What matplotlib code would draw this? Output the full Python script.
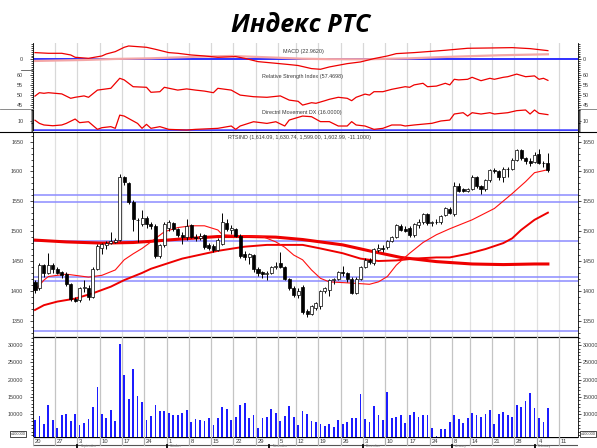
import matplotlib
matplotlib.use("Agg")
import matplotlib.pyplot as plt
from matplotlib.lines import Line2D
from matplotlib.ticker import MultipleLocator, FixedLocator

# daily candles (day 0 = 20 Aug)
opens = [1415, 1404, 1443, 1430, 1444, 1436, 1432, 1428, 1411, 1386,
         1384, 1405, 1405, 1390, 1437, 1472, 1477, 1481, 1482, 1485,
         1590, 1580, 1549, 1518, 1512, 1522, 1512, 1508, 1458, 1476,
         1506, 1514, 1503, 1494, 1490, 1510, 1491, 1488, 1493, 1476,
         1475, 1469, 1478, 1514, 1502, 1503, 1492, 1462, 1456, 1460,
         1436, 1431, 1428, 1430, 1440, 1446, 1440, 1420, 1405, 1393,
         1407, 1366, 1362, 1372, 1374, 1400, 1402, 1418, 1420, 1432,
         1430, 1420, 1397, 1420, 1440, 1452, 1446, 1468, 1471, 1474,
         1484, 1490, 1508, 1503, 1505, 1493, 1510, 1515, 1528, 1513,
         1516, 1515, 1527, 1537, 1528, 1575, 1570, 1568, 1571, 1590,
         1575, 1570, 1585, 1603, 1600, 1590, 1605, 1605, 1620, 1636,
         1622, 1618, 1616, 1630, 1615, 1614.09]
highs = [1418, 1446, 1445, 1463, 1446, 1440, 1434, 1431, 1413, 1390,
         1407, 1418, 1410, 1440, 1478, 1480, 1483, 1499, 1488, 1596,
         1592, 1582, 1552, 1522, 1535, 1525, 1516, 1512, 1478, 1516,
         1518, 1516, 1506, 1498, 1521, 1512, 1495, 1497, 1495, 1480,
         1478, 1488, 1530, 1520, 1510, 1506, 1495, 1466, 1464, 1462,
         1440, 1434, 1433, 1442, 1448, 1465, 1442, 1422, 1408, 1404,
         1410, 1370, 1377, 1382, 1402, 1406, 1420, 1422, 1434, 1442,
         1432, 1423, 1423, 1442, 1455, 1455, 1472, 1478, 1477, 1486,
         1492, 1512, 1512, 1508, 1508, 1514, 1520, 1530, 1530, 1517,
         1520, 1527, 1540, 1540, 1582, 1580, 1572, 1573, 1594, 1592,
         1578, 1588, 1605, 1606, 1602, 1607, 1607, 1622, 1638, 1638,
         1625, 1622, 1633, 1637, 1618, 1630.74]
lows = [1397, 1402, 1424, 1428, 1430, 1428, 1422, 1408, 1383, 1381,
        1382, 1398, 1385, 1388, 1435, 1462, 1470, 1478, 1480, 1484,
        1578, 1545, 1500, 1482, 1508, 1505, 1503, 1455, 1455, 1474,
        1500, 1500, 1490, 1478, 1485, 1488, 1484, 1485, 1470, 1468,
        1465, 1466, 1476, 1500, 1496, 1490, 1455, 1452, 1445, 1432,
        1425, 1422, 1418, 1428, 1436, 1438, 1418, 1402, 1390, 1388,
        1362, 1357, 1360, 1368, 1370, 1396, 1392, 1412, 1418, 1425,
        1415, 1394, 1395, 1418, 1438, 1445, 1444, 1465, 1465, 1470,
        1482, 1488, 1500, 1498, 1490, 1490, 1505, 1512, 1510, 1508,
        1512, 1512, 1525, 1528, 1526, 1566, 1566, 1565, 1569, 1573,
        1562, 1568, 1583, 1598, 1585, 1583, 1590, 1603, 1618, 1620,
        1612, 1610, 1614, 1612, 1608, 1599]
closes = [1402, 1443, 1430, 1444, 1436, 1430, 1426, 1412, 1386, 1383,
          1405, 1407, 1390, 1437, 1475, 1478, 1481, 1484, 1486, 1590,
          1582, 1549, 1520, 1518, 1522, 1512, 1508, 1458, 1476, 1512,
          1515, 1503, 1494, 1490, 1508, 1491, 1488, 1492, 1473, 1471,
          1468, 1485, 1516, 1503, 1505, 1492, 1458, 1457, 1462, 1436,
          1430, 1428, 1430, 1440, 1442, 1440, 1420, 1405, 1393, 1400,
          1365, 1362, 1375, 1380, 1400, 1404, 1418, 1420, 1432, 1430,
          1420, 1397, 1420, 1440, 1452, 1448, 1470, 1472, 1470, 1484,
          1490, 1510, 1502, 1501, 1493, 1512, 1515, 1528, 1513, 1515,
          1515, 1525, 1538, 1530, 1576, 1568, 1568, 1571, 1590, 1575,
          1570, 1585, 1603, 1601, 1590, 1605, 1604, 1620, 1636, 1622,
          1618, 1615, 1628, 1615, 1614.09, 1602.99]
volume = [8360, 9520, 7110, 12700, 8360, 6150, 9800, 10000, 8070, 10000,
          6920, 7400, 8560, 12000, 17800, 10100, 8940, 11250, 8170, 30200,
          21360, 14430, 23100, 15300, 13560, 8360, 9520, 12700, 10960, 10960,
          10480, 9800, 9800, 10480, 11250, 7690, 8560, 8360, 8070, 8840,
          6920, 8840, 12000, 11440, 8360, 9130, 12700, 13370, 8840, 9800,
          5960, 9040, 9130, 11540, 10480, 8170, 9520, 12400, 9130, 6920,
          11060, 10100, 8170, 7690, 7210, 6630, 7300, 6440, 8360, 7110,
          7880, 9040, 8840, 15780, 8750, 7880, 12400, 9900, 8360, 16360,
          9040, 9330, 9800, 7600, 9800, 10770, 9330, 9710, 9710, 6150,
          3740, 5760, 5760, 7690, 9800, 8650, 7600, 9040, 10290, 9800,
          9330, 10000, 11250, 7110, 10000, 10580, 9800, 9330, 12700, 12210,
          13950, 16260, 11930, 8840, 7880, 11830]

# moving averages (day, value)
fast_days = [0, 2, 3, 7, 9, 12, 15, 18, 20, 22, 24, 26, 29, 32, 35, 38, 41, 42, 47, 51, 54,
             56, 58, 60, 62, 64, 66, 71, 75, 77, 79, 81, 84, 87, 90, 93, 98, 103, 107, 110, 112, 115]
fast_vals = [1401, 1418, 1424, 1428, 1426, 1423, 1426, 1435, 1452, 1462, 1471, 1482, 1499, 1506,
             1509, 1509, 1502, 1494, 1492, 1491, 1482, 1473, 1460, 1452, 1435, 1421, 1415, 1413,
             1411, 1415, 1424, 1443, 1463, 1481, 1494, 1504, 1519, 1538, 1563, 1583, 1598, 1603]
mid_days = [0, 2, 5, 9, 13, 17, 20, 24, 26, 33, 41, 47, 52, 60, 64, 69, 73, 77, 81, 85, 90,
            93, 97, 101, 105, 107, 109, 112, 115]
mid_vals = [1368, 1376, 1382, 1387, 1396, 1407, 1418, 1430, 1437, 1454, 1467, 1474, 1477, 1477,
            1471, 1463, 1454, 1450, 1451, 1454, 1456, 1456, 1462, 1470, 1480, 1488, 1502, 1519, 1531]
slow_days = [0, 7, 15, 22, 26, 33, 41, 48, 54, 60, 69, 75, 82, 90, 94, 98, 105, 112, 115]
slow_vals = [1485, 1482, 1480, 1481, 1483, 1487, 1491, 1491, 1490, 1486, 1477, 1467, 1456, 1449,
             1447, 1445, 1444, 1445, 1445]
levels = [1560, 1548.5, 1483, 1423, 1416, 1333]

macd_days = [0, 3, 6, 8, 9, 12, 15, 16, 18, 20, 21, 25, 27, 30, 32, 35, 38, 41, 45, 47, 50, 54,
             57, 59, 62, 64, 66, 70, 73, 76, 79, 81, 85, 89, 92, 97, 102, 107, 111, 115]
macd_vals = [17.7, 15.9, 15.9, 11.5, 5.3, 2.6, 8.8, 14.1, 20.3, 31.8, 35.3, 31.8, 26.5, 17.7, 15.9,
             11.5, 8.8, 5.3, 7.1, 2.6, -6.2, -10.6, -14.0, -16.5, -24.7, -26.5, -20.3, -11.5, -7.0,
             1.8, 8.8, 15.0, 17.7, 21.2, 23.9, 29.2, 30.0, 30.9, 28.3, 22.96]
signal_days = [0, 11, 18, 26, 37, 44, 52, 60, 66, 74, 84, 92, 104, 115]
signal_vals = [-4.4, -1.8, 0.9, 2.6, 7.0, 8.8, 5.3, 1.5, 0.3, 0.0, 2.5, 6.2, 10.6, 13.3]

rsi_days = [0, 1, 2, 3, 6, 8, 9, 11, 12, 14, 17, 19, 20, 22, 25, 26, 28, 29, 32, 34,
            36, 38, 40, 41, 44, 46, 49, 52, 55, 57, 59, 60, 62, 63, 65, 66, 68, 70, 71, 72,
            74, 75, 76, 78, 80, 83, 84, 85, 87, 88, 90, 92, 93, 94, 95, 97, 98, 100, 102, 103,
            105, 106, 108, 110, 112, 113, 114, 115]
rsi_vals = [49.6, 51.3, 51.0, 51.3, 50.7, 48.5, 49.0, 49.7, 49.0, 52.6, 53.5, 58.5, 57.7, 54.3, 54.0,
            51.5, 51.8, 54.0, 52.6, 53.2, 52.6, 52.1, 51.3, 53.5, 52.6, 50.1, 49.3, 49.0, 49.7, 47.6,
            47.0, 45.1, 46.3, 46.0, 47.3, 48.0, 49.0, 48.5, 47.3, 49.0, 50.6, 50.1, 51.8, 51.8, 53.0,
            54.3, 54.0, 55.2, 56.0, 54.3, 54.6, 56.0, 55.2, 58.0, 57.7, 58.0, 59.0, 57.3, 58.5, 58.0,
            59.0, 59.3, 60.6, 59.3, 59.7, 58.0, 58.5, 57.47]

dx_days = [0, 1, 2, 4, 6, 7, 9, 10, 12, 14, 15, 17, 18, 19, 20, 23, 24, 25, 26, 28,
           30, 34, 36, 41, 44, 45, 46, 49, 52, 54, 56, 57, 59, 60, 62, 64, 66, 68, 70, 71,
           72, 74, 76, 78, 80, 82, 83, 85, 89, 91, 93, 94, 96, 97, 98, 100, 102, 103, 106, 108,
           110, 111, 112, 113, 115]
dx_vals = [10.5, 7.1, 5.4, 4.6, 5.4, 7.1, 11.8, 7.9, 8.9, 0.7, 2.5, 3.6, 1.8, 16.0, 15.0, 7.1, 1.8,
           6.1, 1.8, 3.6, 0.7, 0.0, 0.7, 1.8, 4.3, 0.7, 4.3, 8.9, 7.1, 8.9, 4.3, 10.7, 13.6, 15.0,
           14.3, 9.0, 9.0, 4.3, 4.3, 9.0, 5.4, 4.3, 0.7, 1.8, 5.4, 5.4, 4.3, 5.4, 7.2, 9.7, 10.7,
           17.2, 18.6, 15.0, 18.6, 17.2, 18.6, 17.2, 18.6, 20.8, 21.5, 17.2, 21.5, 17.9, 16.5]

# first trading day of each week and its label
week_start = [0, 5, 10, 15, 20, 25, 30, 35, 40, 45, 50, 55, 59, 64, 69, 74, 79, 84, 89,
              94, 98, 103, 108, 113, 118]
week_label = ['20', '27', '3', '10', '17', '24', '1', '8', '15', '22', '29', '5', '12',
              '19', '26', '3', '10', '17', '24', '8', '14', '21', '28', '4', '11']
month_start = [10, 30, 53, 74, 94, 112.5]
month_name = ['September', 'October', 'November', 'December', 'January', 'February']

# ---- layout (pixels) ----
W, H = 597, 448
L, R = 33, 578
X0, STEP = 35.0, 4.46
TXT = '#3a3a3a'

plt.rcParams['font.family'] = ['Liberation Sans', 'DejaVu Sans']
fig = plt.figure(figsize=(W / 100, H / 100), dpi=100)


def fline(x0, x1, y, **kw):
    fig.add_artist(Line2D([x0 / W, x1 / W], [1 - y / H, 1 - y / H],
                          transform=fig.transFigure, **kw))


def panel(top, bottom, ylim, major, minor, grid='#d8d8d8'):
    ax = fig.add_axes([L / W, 1 - bottom / H, (R - L) / W, (bottom - top) / H])
    ax.set_xlim((L - X0) / STEP, (R - X0) / STEP)
    ax.set_ylim(*ylim)
    ax.patch.set_alpha(0)
    for s in ('top', 'bottom'):
        ax.spines[s].set_visible(False)
    ax.spines['left'].set_linewidth(0.6)
    ax.spines['right'].set_visible(False)
    ax.set_xticks([])
    ax.yaxis.set_major_locator(FixedLocator(major))
    ax.yaxis.set_minor_locator(MultipleLocator(minor))
    ax.tick_params(axis='y', which='both', labelsize=3.9, labelcolor=TXT, width=0.5, pad=4.5)
    ax.tick_params(axis='y', which='major', length=2.5)
    ax.tick_params(axis='y', which='minor', length=1.2)
    ax2 = ax.twinx()
    ax2.set_ylim(*ylim)
    for s in ('top', 'bottom', 'left'):
        ax2.spines[s].set_visible(False)
    ax2.spines['right'].set_linewidth(0.6)
    ax2.yaxis.set_major_locator(FixedLocator(major))
    ax2.yaxis.set_minor_locator(MultipleLocator(minor))
    ax2.tick_params(axis='y', which='both', labelsize=3.9, labelcolor=TXT, width=0.5, pad=0.8)
    ax2.tick_params(axis='y', which='major', length=2.5)
    ax2.tick_params(axis='y', which='minor', length=1.2)
    for s in week_start:
        ax.axvline(s - 0.5, color=grid, lw=0.9, zorder=0)
    return ax


def label_x(px):
    return (px - L) / (R - L)


# title
fig.text(301 / W, 1 - 25 / H, 'Индекс РТС', ha='center', va='center', fontsize=18,
         fontweight='bold', fontstyle='italic', family=['Open Sans', 'DejaVu Sans'])

# MACD
ax_m = panel(43.3, 70, (-28.4, 42.4), [0], 5)
ax_m.axhline(0, color='#3030ff', lw=1.4, zorder=1)
ax_m.plot(signal_days, signal_vals, color='#f4a6a6', lw=1.6, zorder=2)
ax_m.plot(macd_days, macd_vals, color='#ee0000', lw=0.9, zorder=3)
ax_m.text(label_x(283), 0.71, 'MACD (22.9620)', transform=ax_m.transAxes, fontsize=3.9,
          color=TXT, ha='left', va='center')

# RSI
ax_r = panel(70, 109.3, (43.0, 62.65), [45, 50, 55, 60], 1)
ax_r.plot(rsi_days, rsi_vals, color='#ee0000', lw=0.9, zorder=3)
ax_r.text(label_x(262), 0.83, 'Relative Strength Index (57.4698)',
          transform=ax_r.transAxes, fontsize=3.9, color=TXT, ha='left', va='center')

# DX
ax_d = panel(109.3, 131.5, (-1.6, 22.26), [10], 1)
ax_d.axhline(0, color='#4040ff', lw=1.8, zorder=1)
ax_d.plot(dx_days, dx_vals, color='#ee0000', lw=0.9, zorder=3)
ax_d.text(label_x(262), 0.84, 'Directnl Movement DX (16.0000)',
          transform=ax_d.transAxes, fontsize=3.9, color=TXT, ha='left', va='center')

# price
ax_p = panel(131.5, 336.5, (1323.5, 1667), [1350, 1400, 1450, 1500, 1550, 1600, 1650], 10,
             grid='#e0e0e0')
ax_p.spines['bottom'].set_visible(True)
ax_p.spines['bottom'].set_linewidth(0.9)
for lv in levels:
    ax_p.axhline(lv, color='#8c8cff', lw=1.1, zorder=1)
ax_p.plot(slow_days, slow_vals, color='#ee0000', lw=2.2, zorder=2)
ax_p.plot(mid_days, mid_vals, color='#ee0000', lw=1.4, zorder=2)
ax_p.plot(fast_days, fast_vals, color='#ff1010', lw=0.8, zorder=2)
days = list(range(len(closes)))
ax_p.vlines(days, lows, highs, color='black', lw=0.7, zorder=3)
for d, o, c in zip(days, opens, closes):
    face = 'white' if c >= o else 'black'
    ax_p.bar(d, max(abs(c - o), 0.8), bottom=min(o, c), width=0.68, color=face,
             edgecolor='black', linewidth=0.5, zorder=4)
ax_p.text(label_x(228), 0.97, 'RTSIND (1,614.09, 1,630.74, 1,599.00, 1,602.99, -11.1000)',
          transform=ax_p.transAxes, fontsize=3.9, color=TXT, ha='left', va='center')

# volume
ax_v = panel(336.5, 437, (3440, 32480), [10000, 15000, 20000, 25000, 30000], 1000,
             grid='#c4c4c4')
ax_v.bar(days, volume, width=0.4, color='#1c1cff', zorder=3)

# date row
ax_t = fig.add_axes([L / W, 0, (R - L) / W, 11 / H])
ax_t.set_xlim((L - X0) / STEP, (R - X0) / STEP)
ax_t.set_ylim(448, 437)
ax_t.axis('off')
ax_t.axhline(437.4, color='black', lw=0.9)
ax_t.axhline(445, color='#555555', lw=0.8)
for s, lab in zip(week_start, week_label):
    ax_t.plot([s - 0.5, s - 0.5], [437, 445], color='#b0b0b0', lw=0.9)
    ax_t.text(s - 0.5 + 0.4, 441.3, lab, fontsize=4.2, color=TXT, ha='left', va='center')
for m, name in zip(month_start, month_name):
    ax_t.plot([m - 0.5, m - 0.5], [445, 448], color='black', lw=1.3)
    ax_t.text(m + 0.2, 447.9, name, fontsize=2.4, color='#777777', ha='left', va='bottom',
              clip_on=False)

# separators and scale boxes
fline(0, W, 132, color='black', lw=0.8)
fline(0, L, 109.3, color='#777777', lw=0.6)
fline(R, W, 109.3, color='#777777', lw=0.6)
fline(21, L, 70, color='#555555', lw=0.6)
for bx in (18, 588):
    fig.text(bx / W, 1 - 434 / H, 'x100000', fontsize=2.8, color=TXT, ha='center', va='center',
             bbox=dict(boxstyle='square,pad=0.25', fc='white', ec='black', lw=0.5))

fig.savefig('out.png', dpi=100)
